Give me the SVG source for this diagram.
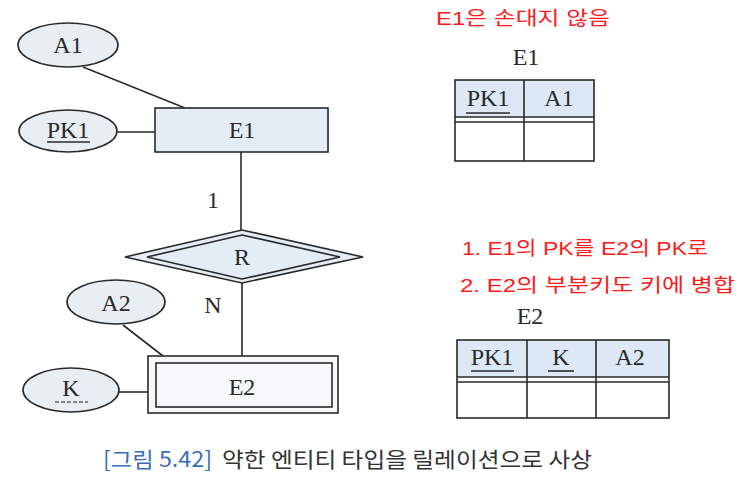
<svg xmlns="http://www.w3.org/2000/svg" width="746" height="483" viewBox="0 0 746 483">
<style>
.ln{stroke:#2a2a2a;stroke-width:1.6;fill:none}
.sh{stroke:#2a2a2a;stroke-width:1.6}
.att{fill:#e9eef3;stroke:#2a2a2a;stroke-width:1.6}
.mono{font-family:"Liberation Serif","DejaVu Serif",serif;font-size:24px;fill:#2a2a2a;text-anchor:middle}
.red{font-family:"Liberation Sans","Noto Sans CJK KR",sans-serif;font-size:19px;fill:#ff1a1a}
.cap{font-family:"Noto Sans CJK KR","Noto Sans",sans-serif;font-size:21px;fill:#333}
</style>
<rect width="746" height="483" fill="#fff"/>
<g id="connectors">
<line class="ln" x1="83" y1="67" x2="185" y2="108"/>
<line class="ln" x1="117" y1="132" x2="155" y2="132"/>
<line class="ln" x1="241" y1="152" x2="241" y2="230"/>
<line class="ln" x1="242" y1="283" x2="242" y2="356"/>
<line class="ln" x1="123" y1="325" x2="163" y2="356"/>
<line class="ln" x1="119" y1="392" x2="148" y2="392"/>
<text class="mono" x="213" y="208">1</text>
<text class="mono" x="213" y="313">N</text>
</g>
<g id="A1"><ellipse class="att" cx="68" cy="45" rx="50" ry="22"/><text class="mono" x="68" y="53">A1</text></g>
<g id="PK1"><ellipse class="att" cx="68" cy="131" rx="49" ry="21"/><text class="mono" x="68" y="138">PK1</text><line class="ln" x1="47" y1="142" x2="90" y2="142"/></g>
<g id="E1"><rect class="sh" x="155" y="108" width="173" height="44" fill="#e4ecf5"/><text class="mono" x="242" y="138">E1</text></g>
<g id="R"><polygon class="sh" points="125,257 242,230 363,257 242,283" fill="#e4ecf5"/><polygon class="ln" points="147,257 242,235 340,257 242,279"/><text class="mono" x="242" y="265">R</text></g>
<g id="A2"><ellipse class="att" cx="116" cy="302" rx="49" ry="22"/><text class="mono" x="116" y="311">A2</text></g>
<g id="K"><ellipse class="att" cx="71" cy="390" rx="48" ry="22" fill="#f4f6f8"/><text class="mono" x="71" y="396">K</text><line x1="55" y1="402" x2="88" y2="402" stroke="#666" stroke-width="1.6" stroke-dasharray="4,2"/></g>
<g id="E2"><rect class="sh" x="148" y="356" width="190" height="57" fill="#f7f8fa"/><rect class="ln" x="156" y="363" width="176" height="44"/><text class="mono" x="242" y="395">E2</text></g>
<g id="note1"><text class="red" x="436" y="25" textLength="174" lengthAdjust="spacingAndGlyphs">E1은 손대지 않음</text></g>
<g id="tableE1">
<text class="mono" x="526" y="65">E1</text>
<rect x="455" y="80" width="139" height="37" fill="#dce8f5"/>
<rect class="ln" x="455" y="80" width="139" height="81"/>
<line class="ln" x1="524" y1="80" x2="524" y2="161"/>
<line class="ln" x1="455" y1="117" x2="594" y2="117"/>
<line class="ln" x1="455" y1="122" x2="594" y2="122"/>
<text class="mono" x="488" y="106">PK1</text><line class="ln" x1="466" y1="113" x2="510" y2="113"/>
<text class="mono" x="559" y="106">A1</text>
</g>
<g id="note2">
<text class="red" x="462" y="255" textLength="246" lengthAdjust="spacingAndGlyphs">1. E1의 PK를 E2의 PK로</text>
<text class="red" x="460" y="292" textLength="275" lengthAdjust="spacingAndGlyphs">2. E2의 부분키도 키에 병합</text>
</g>
<g id="tableE2">
<text class="mono" x="530" y="324">E2</text>
<rect x="457" y="340" width="212" height="37" fill="#dce8f5"/>
<rect class="ln" x="457" y="340" width="212" height="78"/>
<line class="ln" x1="527" y1="340" x2="527" y2="418"/>
<line class="ln" x1="596" y1="340" x2="596" y2="418"/>
<line class="ln" x1="457" y1="377" x2="669" y2="377"/>
<line class="ln" x1="457" y1="382" x2="669" y2="382"/>
<text class="mono" x="492" y="365">PK1</text><line class="ln" x1="471" y1="371" x2="514" y2="371"/>
<text class="mono" x="561" y="365">K</text><line class="ln" x1="548" y1="371" x2="574" y2="371"/>
<text class="mono" x="630" y="365">A2</text>
</g>
<g id="caption">
<text class="cap" x="103" y="467" style="fill:#3a6cb8" textLength="109" lengthAdjust="spacingAndGlyphs">[그림 5.42]</text>
<text class="cap" x="222" y="467" textLength="370" lengthAdjust="spacingAndGlyphs">약한 엔티티 타입을 릴레이션으로 사상</text>
</g>
</svg>
